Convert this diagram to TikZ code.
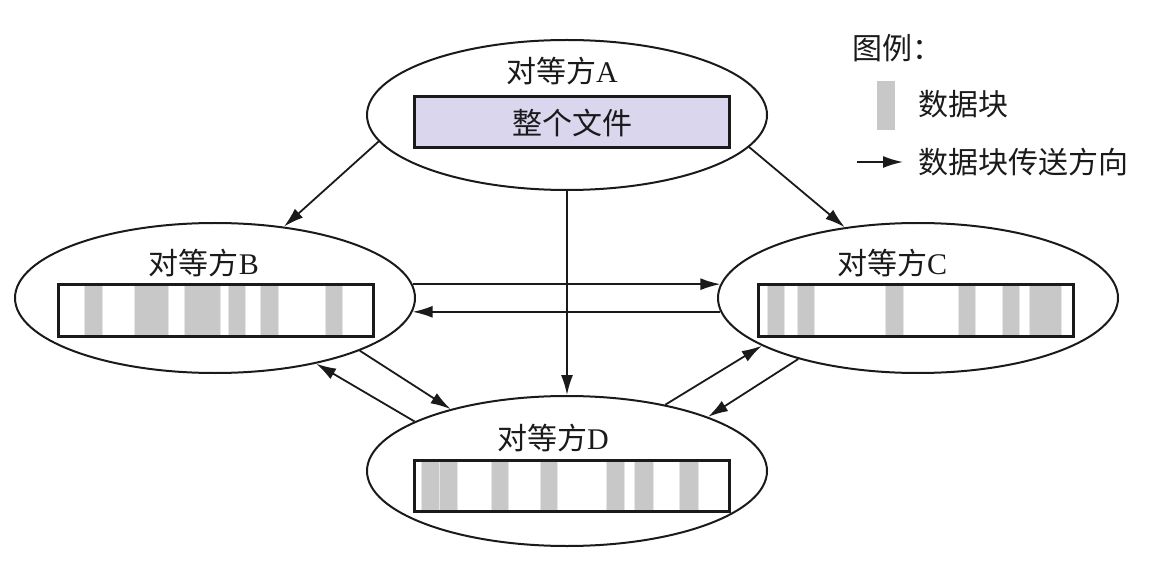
\documentclass[tikz,border=0pt]{standalone}
\usepackage{fontspec}
\setmainfont{Liberation Serif}
\newfontfamily\cjk{Noto Sans CJK SC}
\usetikzlibrary{arrows.meta,shapes.geometric}
\definecolor{blackmain}{HTML}{1A1A1A}
\definecolor{blockgray}{HTML}{C8C8C8}
\definecolor{filelav}{HTML}{D9D6EE}
\tikzset{peer/.style={draw=blackmain,ellipse,line width=1pt,minimum width=200pt,minimum height=75pt,inner sep=0pt},
arr/.style={-{Latex[length=10pt,width=6pt]},line width=.9pt,blackmain},
bar/.style={draw=blackmain,line width=1.5pt,minimum width=157.5pt,minimum height=25.5pt,inner sep=0pt},
lbl/.style={font=\fontsize{15}{18}\selectfont,inner sep=0pt,text=blackmain}}

\begin{document}
\begin{tikzpicture}[x=.5pt,y=-.5pt]
\useasboundingbox (0,0) rectangle (1165,571);
\node[peer] (A) at (567,115) {};
\node[peer] (B) at (215,298) {};
\node[peer] (C) at (918,298) {};
\node[peer] (D) at (567,471) {};
\node[lbl] (tA) at (562,71) {{\cjk 对等方}A};
\node[lbl] (tB) at (204,263) {{\cjk 对等方}B};
\node[lbl] (tC) at (892,263) {{\cjk 对等方}C};
\node[lbl] (tD) at (553,438) {{\cjk 对等方}D};
\node[bar,fill=filelav] (file) at (572,122.5) {};
\node[lbl] at (file) {\cjk 整个文件};
% data blocks in each peer
\foreach \left/\top/\blocks in {58/285/{26/44,76/110,126/162,170/187,202/220,267/284},
758/285/{9/26,39/56,127/145,200/217,244/261,271/303},
414/460/{7/25,25/43,77/94,126/143,192/210,220/239,265/284}} {
\foreach \a/\b in \blocks
\filldraw[fill=blockgray,draw=blockgray!45,line width=.3pt] (\left+\a,\top) rectangle (\left+\b,\top+51);
}
\node[bar] (barB) at (215.5,310.5) {};
\node[bar] (barC) at (915.5,310.5) {};
\node[bar] (barD) at (572,485.5) {};
% transfers
\draw[arr] (A.188) -- (B.46);
\draw[arr] (A.350) -- (C.136);
\draw[arr] (A.270) -- (D.90);
\draw[arr] (B.4) -- (C.176);
\draw[arr] (C.184) -- (B.356);
\draw[arr] (B.340) -- (D.152);
\draw[arr] (D.162) -- (B.327);
\draw[arr] (D.34) -- (C.197);
\draw[arr] (C.207) -- (D.21);
% legend
\node[lbl] (lgd) at (897,48) {\cjk 图例：};
\node[fill=blockgray,minimum width=9pt,minimum height=24.5pt,inner sep=0pt] (lblock) at (886,105.5) {};
\node[lbl,anchor=west] (lblocktxt) at (918,104) {\cjk 数据块};
\node[lbl,anchor=west] (ldirtxt) at (918,162) {\cjk 数据块传送方向};
\coordinate (lstart) at (857,162);
\draw[arr,shorten >=7.5pt] (lstart) -- (ldirtxt.west);
\end{tikzpicture}
\end{document}
